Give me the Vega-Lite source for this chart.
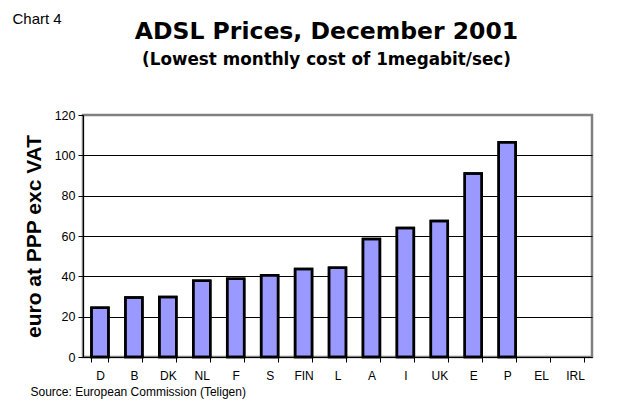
{
  "$schema": "https://vega.github.io/schema/vega-lite/v6.json",
  "autosize": "none",
  "width": 509,
  "height": 242,
  "padding": {"left": 83, "top": 115, "right": 30, "bottom": 53},
  "background": "white",
  "title": {
    "text": "ADSL Prices, December 2001",
    "subtitle": "(Lowest monthly cost of 1megabit/sec)",
    "font": "DejaVu Sans",
    "fontSize": 23.5,
    "fontWeight": "bold",
    "color": "black",
    "subtitleFont": "DejaVu Sans",
    "subtitleFontSize": 16.8,
    "subtitleFontWeight": "bold",
    "subtitleColor": "black",
    "subtitlePadding": 9,
    "anchor": "middle",
    "dx": -11,
    "offset": 0,
    "dy": 58
  },
  "data": {
    "values": [
      {"country": "D", "price": 24.4},
      {"country": "B", "price": 29.5},
      {"country": "DK", "price": 29.8},
      {"country": "NL", "price": 37.8},
      {"country": "F", "price": 38.8},
      {"country": "S", "price": 40.5},
      {"country": "FIN", "price": 43.6},
      {"country": "L", "price": 44.3},
      {"country": "A", "price": 58.5},
      {"country": "I", "price": 64},
      {"country": "UK", "price": 67.5},
      {"country": "E", "price": 91},
      {"country": "P", "price": 106.5},
      {"country": "EL", "price": null},
      {"country": "IRL", "price": null}
    ]
  },
  "encoding": {
    "x": {
      "field": "country",
      "type": "nominal",
      "sort": null,
      "scale": {
        "domain": ["D", "B", "DK", "NL", "F", "S", "FIN", "L", "A", "I", "UK", "E", "P", "EL", "IRL"],
        "paddingInner": 0.5,
        "paddingOuter": 0.25
      }
    },
    "y": {
      "field": "price",
      "type": "quantitative",
      "scale": {"domain": [0, 120], "nice": false},
      "axis": {
        "values": [0, 20, 40, 60, 80, 100, 120],
        "title": "euro at PPP exc VAT",
        "titleFont": "Liberation Sans",
        "titleFontSize": 21,
        "titleFontWeight": "bold",
        "titleColor": "black",
        "titlePadding": 10,
        "labelFont": "Liberation Sans",
        "labelFontSize": 12.5,
        "labelColor": "black",
        "labelPadding": 3,
        "tickSize": 5,
        "tickColor": "black",
        "domainColor": "black",
        "grid": true,
        "gridColor": {"condition": {"test": "datum.value === 120", "value": "#808080"}, "value": "black"},
        "gridWidth": 1
      }
    }
  },
  "layer": [
    {
      "mark": {"type": "bar", "fill": "#9999FF", "stroke": "black", "strokeWidth": 2.5},
      "encoding": {
        "x": {
          "field": "country",
          "type": "nominal",
          "sort": null,
          "axis": {
            "orient": "bottom",
            "labelAngle": 0,
            "labelFont": "Liberation Sans",
            "labelFontSize": 12,
            "labelColor": "black",
            "labelPadding": 8,
            "tickBand": "extent",
            "tickSize": 5,
            "tickColor": "black",
            "domainColor": "black",
            "title": "Source: European Commission (Teligen)",
            "titleFont": "Liberation Sans",
            "titleFontSize": 12,
            "titleFontWeight": "normal",
            "titleColor": "black",
            "titleAnchor": "start",
            "titleAlign": "left",
            "titleBaseline": "alphabetic",
            "titleX": -53,
            "titleY": 38
          }
        }
      }
    },
    {
      "mark": {"type": "bar", "fill": null, "stroke": "black", "strokeWidth": 2.5},
      "encoding": {
        "x": {
          "field": "country",
          "type": "nominal",
          "sort": null,
          "axis": {
            "orient": "top",
            "labels": false,
            "ticks": false,
            "domain": false,
            "title": "Chart 4",
            "titleFont": "Liberation Sans",
            "titleFontSize": 15,
            "titleFontWeight": "normal",
            "titleColor": "black",
            "titleAnchor": "start",
            "titleAlign": "left",
            "titleBaseline": "alphabetic",
            "titleX": -71,
            "titleY": -92
          }
        }
      }
    }
  ],
  "resolve": {"axis": {"x": "independent"}},
  "config": {
    "view": {"stroke": "#808080", "strokeWidth": 2.5}
  }
}
